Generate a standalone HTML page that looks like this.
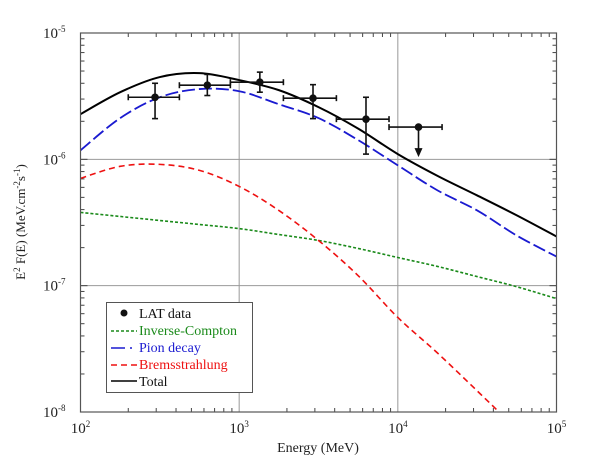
<!DOCTYPE html>
<html><head><meta charset="utf-8"><style>
body{margin:0;background:#fff;}
svg{display:block;font-family:"Liberation Serif",serif;}
</style></head><body>
<svg id="c" width="600" height="466" viewBox="0 0 600 466"></svg>
<script>
const energyLog = [2,2.25,2.5,2.75,3,3.25,3.5,3.75,4,4.25,4.5,4.75,5];
const totalVals = [2.28e-6,3.40e-6,4.48e-6,4.81e-6,4.24e-6,3.53e-6,2.59e-6,1.75e-6,1.1e-6,7.4e-7,5.18e-7,3.6e-7,2.45e-7];
const pionVals = [1.18e-6,2.12e-6,3.1e-6,3.6e-6,3.46e-6,2.73e-6,2.12e-6,1.42e-6,8.96e-7,5.68e-7,3.94e-7,2.49e-7,1.7e-7];
const bremsVals = [7.07e-7,8.8e-7,9.12e-7,8.18e-7,6.1e-7,3.94e-7,2.28e-7,1.2e-7,5.6e-8,2.93e-8,1.47e-8,7.3e-9,3.6e-9];
const icVals = [3.8e-7,3.53e-7,3.28e-7,3.05e-7,2.83e-7,2.54e-7,2.28e-7,1.97e-7,1.67e-7,1.42e-7,1.18e-7,9.8e-8,7.9e-8];
const dataE = [295,630,1350,2920,6300,13500];
const dataF = [3.1e-6,3.86e-6,4.08e-6,3.05e-6,2.08e-6,1.8e-6];
const dataFlo = [2.1e-6,3.2e-6,3.4e-6,2.1e-6,1.1e-6,null];
const dataFhi = [4.0e-6,4.7e-6,4.9e-6,3.9e-6,3.1e-6,null];
const dataElo = [200,420,880,1900,4100,8800];
const dataEhi = [420,880,1900,4100,8800,19000];
const xTicks = [2,3,4,5];
const yTicks = [-5,-6,-7,-8];

const L=80.5,R=556.5,T=33,B=412;
const X=e=>L+(Math.log10(e)-2)/3*(R-L);
const XL=l=>L+(l-2)/3*(R-L);
const Y=f=>T+(-5-Math.log10(f))/3*(B-T);
const NS="http://www.w3.org/2000/svg";
const svg=document.getElementById('c');
function mk(t,a,p){const e=document.createElementNS(NS,t);for(const k in a)e.setAttribute(k,a[k]);(p||svg).appendChild(e);return e;}

const grid=mk('g',{});


[3,4].forEach(l=>mk('line',{x1:XL(l),x2:XL(l),y1:T,y2:B,stroke:'#999','stroke-width':1},grid));
[-6,-7].forEach(l=>mk('line',{x1:L,x2:R,y1:Y(Math.pow(10,l)),y2:Y(Math.pow(10,l)),stroke:'#999','stroke-width':1},grid));
const ticks=mk('g',{stroke:'#444','stroke-width':1});


for(let d=2;d<5;d++)for(let m=2;m<=9;m++){const x=X(m*Math.pow(10,d));
 mk('line',{x1:x,x2:x,y1:B,y2:B-4},ticks);mk('line',{x1:x,x2:x,y1:T,y2:T+4},ticks);}
for(let d=-8;d<-5;d++)for(let m=2;m<=9;m++){const y=Y(m*Math.pow(10,d));
 mk('line',{x1:L,x2:L+4,y1:y,y2:y},ticks);mk('line',{x1:R,x2:R-4,y1:y,y2:y},ticks);}
yTicks.forEach(l=>{const y=Y(Math.pow(10,l));mk('line',{x1:L,x2:L+7,y1:y,y2:y},ticks);mk('line',{x1:R,x2:R-7,y1:y,y2:y},ticks);});

const clip=mk('clipPath',{id:'pc'});mk('rect',{x:L,y:T,width:R-L,height:B-T},clip);
function path(vals){let pts=energyLog.map((l,i)=>[XL(l),Y(vals[i])]);let d='M'+pts[0][0]+','+pts[0][1];
 for(let i=0;i<pts.length-1;i++){const p0=pts[Math.max(0,i-1)],p1=pts[i],p2=pts[i+1],p3=pts[Math.min(pts.length-1,i+2)];
 d+=' C'+(p1[0]+(p2[0]-p0[0])/6)+','+(p1[1]+(p2[1]-p0[1])/6)+' '+(p2[0]-(p3[0]-p1[0])/6)+','+(p2[1]-(p3[1]-p1[1])/6)+' '+p2[0]+','+p2[1];}return d;}
const curves=[
 [icVals,'#1a8a1a','3,2',1.6,'ic-curve'],
 [bremsVals,'#ee1111','6,4',1.6,'bremsstrahlung-curve'],
 [pionVals,'#1a1ad0','13,4',1.8,'pion-decay-curve'],
 [totalVals,'#000','',2,'total-curve']];
curves.forEach(c=>{const p=mk('path',{d:path(c[0]),fill:'none',stroke:c[1],'stroke-width':c[3],'stroke-dasharray':c[2],'clip-path':'url(#pc)'});
 
 });

dataE.forEach((e,i)=>{const g=mk('g',{stroke:'#111','stroke-width':1.6,fill:'#111'});
 
 
 const x=X(e),y=Y(dataF[i]);
 mk('line',{x1:X(dataElo[i]),x2:X(dataEhi[i]),y1:y,y2:y},g);
 mk('line',{x1:X(dataElo[i]),x2:X(dataElo[i]),y1:y-3,y2:y+3},g);
 mk('line',{x1:X(dataEhi[i]),x2:X(dataEhi[i]),y1:y-3,y2:y+3},g);
 if(dataFlo[i]!==null){const y1=Y(dataFhi[i]),y2=Y(dataFlo[i]);
  mk('line',{x1:x,x2:x,y1:y1,y2:y2},g);mk('line',{x1:x-3,x2:x+3,y1:y1,y2:y1},g);mk('line',{x1:x-3,x2:x+3,y1:y2,y2:y2},g);}
 else{mk('line',{x1:x,x2:x,y1:y,y2:y+24},g);mk('path',{d:`M${x-4},${y+21} L${x+4},${y+21} L${x},${y+30} Z`,stroke:'none'},g);}
 mk('circle',{cx:x,cy:y,r:3.8,stroke:'none'},g);});

const fr=mk('rect',{x:L,y:T,width:R-L,height:B-T,fill:'none',stroke:'#555','stroke-width':1.2});



xTicks.forEach(l=>{const t=mk('text',{x:XL(l),y:433,'font-size':15,'text-anchor':'middle',fill:'#222'});
 
 
 t.innerHTML='10<tspan dy="-6" font-size="9">'+l+'</tspan>';});
yTicks.forEach(l=>{const t=mk('text',{x:43,y:Y(Math.pow(10,l))+5,'font-size':15,fill:'#222'});
 
 
 t.innerHTML='10<tspan dy="-6" font-size="9">'+l+'</tspan>';});
</script>
<svg style="position:absolute;left:0;top:0" width="600" height="466">
<text x="318" y="452" font-size="14" text-anchor="middle" fill="#222" font-family="Liberation Serif,serif">Energy (MeV)</text>
<text transform="translate(25,222) rotate(-90)" font-size="13" text-anchor="middle" fill="#222" font-family="Liberation Serif,serif">E<tspan dy="-5" font-size="9">2</tspan><tspan dy="5"> F(E) (MeV.cm</tspan><tspan dy="-5" font-size="9">-2</tspan><tspan dy="5">s</tspan><tspan dy="-5" font-size="9">-1</tspan><tspan dy="5">)</tspan></text>
<g font-family="Liberation Serif,serif" font-size="14">
<rect x="106.5" y="302.5" width="146" height="90" fill="#fff" stroke="#555"/>
<circle cx="124" cy="313" r="3.5" fill="#111"/>
<text x="139" y="318" fill="#111">LAT data</text>
<line x1="111" x2="137" y1="331" y2="331" stroke="#1a8a1a" stroke-width="1.5" stroke-dasharray="3,2"/>
<text x="139" y="335" fill="#1a8a1a">Inverse-Compton</text>
<line x1="111" x2="137" y1="348" y2="348" stroke="#1a1ad0" stroke-width="1.5" stroke-dasharray="14,5,2"/>
<text x="139" y="352" fill="#1a1ad0">Pion decay</text>
<line x1="111" x2="137" y1="365" y2="365" stroke="#ee1111" stroke-width="1.5" stroke-dasharray="6,4"/>
<text x="139" y="369" fill="#ee1111">Bremsstrahlung</text>
<line x1="111" x2="137" y1="381" y2="381" stroke="#000" stroke-width="1.5"/>
<text x="139" y="386" fill="#111">Total</text>
</g>
</svg>
</body></html>
